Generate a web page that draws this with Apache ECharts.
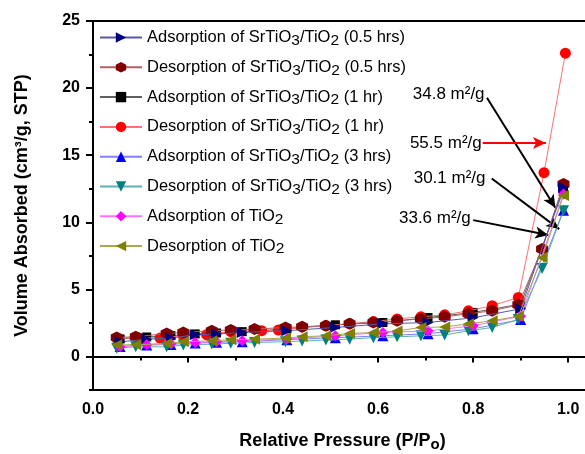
<!DOCTYPE html>
<html>
<head>
<meta charset="utf-8">
<script src="https://cdn.jsdelivr.net/npm/echarts@6/dist/echarts.min.js"></script>
<style>
html,body{margin:0;padding:0;background:#fff;overflow:hidden;}
#chart{width:585px;height:454px;}
</style>
</head>
<body>
<div id="chart"></div>
<script>
// ---- Data ----
const adsX = [0.057, 0.113, 0.164, 0.215, 0.26, 0.314, 0.408, 0.51, 0.61, 0.705, 0.80, 0.90, 0.99];
const desX = [0.99, 0.945, 0.895, 0.84, 0.79, 0.74, 0.69, 0.64, 0.59, 0.54, 0.49, 0.44, 0.405, 0.34, 0.29, 0.25, 0.19, 0.155, 0.09, 0.05];
const desRedX = [0.994, 0.949, 0.895, 0.84, 0.79, 0.74, 0.69, 0.64, 0.59, 0.54, 0.49, 0.44, 0.39, 0.355, 0.29, 0.239, 0.19, 0.141, 0.095, 0.05];

const adsSr05 = [1.09, 1.29, 1.37, 1.62, 1.67, 1.79, 1.92, 2.16, 2.43, 2.53, 2.88, 3.55, 12.6];
const desSr05 = [12.85, 8.0, 3.85, 3.4, 3.18, 2.95, 2.8, 2.66, 2.53, 2.43, 2.29, 2.21, 2.16, 2.04, 1.97, 1.92, 1.79, 1.71, 1.47, 1.42];
const adsSr1 = [1.30, 1.45, 1.55, 1.68, 1.75, 1.85, 2.05, 2.36, 2.53, 2.9, 3.28, 3.9, 12.4];
const desSr1 = [22.6, 13.7, 4.4, 3.78, 3.4, 3.1, 2.95, 2.8, 2.6, 2.45, 2.3, 2.2, 1.97, 1.92, 1.85, 1.62, 1.55, 1.37, 1.4, 1.35];
const adsSr3 = [0.75, 0.85, 0.9, 1.0, 1.05, 1.1, 1.25, 1.4, 1.54, 1.7, 2.06, 2.75, 10.9];
const desSr3 = [10.85, 6.55, 2.75, 2.16, 1.91, 1.6, 1.54, 1.46, 1.4, 1.29, 1.22, 1.15, 1.1, 1.04, 0.98, 0.92, 0.85, 0.72, 0.72, 0.62];
const adsTi = [0.72, 0.87, 0.95, 1.04, 1.1, 1.17, 1.3, 1.54, 1.79, 1.9, 2.29, 3.0, 12.1];
const desTi = [12.0, 7.35, 3.0, 2.66, 2.43, 2.2, 2.16, 1.9, 1.79, 1.71, 1.54, 1.47, 1.37, 1.29, 1.24, 1.17, 1.09, 0.97, 0.87, 0.87];

const xMajorTicks = [0, 0.2, 0.4, 0.6, 0.8, 1.0];
const xMinorTicks = [0.1, 0.3, 0.5, 0.7, 0.9];
const yMajorTicks = [0, 5, 10, 15, 20, 25];
const yMinorTicks = [-2.5, 2.5, 7.5, 12.5, 17.5, 22.5];

// annotation: label text, label anchor (right-middle of text), arrow start, arrow end
const noteTexts = ['34.8 m²/g', '55.5 m²/g', '30.1 m²/g', '33.6 m²/g'];
const noteAnchors = [[0.825, 19.55], [0.819, 15.9], [0.827, 13.26], [0.796, 10.26]];
const arrowStarts = [[0.829, 19.28], [0.820, 15.9], [0.839, 13.26], [0.80, 10.16]];
const arrowEnds = [[0.973, 11.08], [0.953, 15.9], [0.981, 9.49], [0.958, 9.05]];
const noteColors = ['#000', '#ff0000', '#000', '#000'];

const names = [
  'Adsorption of SrTiO3/TiO2 (0.5 hrs)',
  'Desorption of SrTiO3/TiO2 (0.5 hrs)',
  'Adsorption of SrTiO3/TiO2 (1 hr)',
  'Desorption of SrTiO3/TiO2 (1 hr)',
  'Adsorption of SrTiO3/TiO2 (3 hrs)',
  'Desorption of SrTiO3/TiO2 (3 hrs)',
  'Adsorption of TiO2',
  'Desorption of TiO2'
];
const richNames = [
  '{a|Adsorption of SrTiO}{s|3}{a|/TiO}{s|2}{a| (0.5 hrs)}',
  '{a|Desorption of SrTiO}{s|3}{a|/TiO}{s|2}{a| (0.5 hrs)}',
  '{a|Adsorption of SrTiO}{s|3}{a|/TiO}{s|2}{a| (1 hr)}',
  '{a|Desorption of SrTiO}{s|3}{a|/TiO}{s|2}{a| (1 hr)}',
  '{a|Adsorption of SrTiO}{s|3}{a|/TiO}{s|2}{a| (3 hrs)}',
  '{a|Desorption of SrTiO}{s|3}{a|/TiO}{s|2}{a| (3 hrs)}',
  '{a|Adsorption of TiO}{s|2}',
  '{a|Desorption of TiO}{s|2}'
];

const hexPath = 'path://M50,0 L93.3,25 L93.3,75 L50,100 L6.7,75 L6.7,25 Z';
const seriesDefs = [
  {x: adsX, y: adsSr05, color: '#000080', line: '#5a5aa8', symbol: 'triangle', rot: -90, size: 11, z: 6},
  {x: desX, y: desSr05, color: '#800000', line: '#b06060', symbol: hexPath, rot: 0, size: 12, z: 5},
  {x: adsX, y: adsSr1, color: '#000000', line: '#606060', symbol: 'rect', rot: 0, size: 9, z: 2},
  {x: desRedX, y: desSr1, color: '#ff0000', line: '#ff7070', symbol: 'circle', rot: 0, size: 11, z: 3},
  {x: adsX, y: adsSr3, color: '#0000ff', line: '#8080ff', symbol: 'triangle', rot: 0, size: 11, z: 4},
  {x: desX, y: desSr3, color: '#008080', line: '#60b0b0', symbol: 'triangle', rot: 180, size: 11, z: 7},
  {x: adsX, y: adsTi, color: '#ff00ff', line: '#ff70ff', symbol: 'diamond', rot: 0, size: 11, z: 8},
  {x: desX, y: desTi, color: '#808000', line: '#a8a850', symbol: 'triangle', rot: 90, size: 11, z: 9}
];

const FONT = 'Arial, "Liberation Sans", sans-serif';

const series = seriesDefs.map((d, i) => ({
  name: names[i],
  type: 'line',
  xAxisIndex: 0,
  yAxisIndex: 0,
  data: d.x.map((x, k) => [x, d.y[k]]),
  symbol: d.symbol,
  symbolRotate: d.rot,
  symbolSize: d.size,
  showAllSymbol: true,
  itemStyle: {color: d.color},
  lineStyle: {color: d.line, width: 1},
  z: d.z
}));

series.push({
  name: 'notes',
  type: 'line',
  data: [],
  xAxisIndex: 0,
  yAxisIndex: 0,
  z: 20,
  markLine: {
    silent: true,
    symbol: ['none', 'arrow'],
    symbolSize: [9, 13],
    label: {show: false},
    data: arrowStarts.map((s, i) => [
      {coord: s, lineStyle: {color: noteColors[i], width: 2, type: 'solid'}},
      {coord: arrowEnds[i]}
    ])
  },
  markPoint: {
    silent: true,
    symbol: 'circle',
    symbolSize: 1,
    itemStyle: {color: 'rgba(0,0,0,0)'},
    label: {
      show: true,
      position: 'left',
      distance: 0,
      color: '#000',
      fontFamily: FONT,
      fontSize: 17
    },
    data: noteAnchors.map((c, i) => ({coord: c, label: {formatter: noteTexts[i]}}))
  }
});

const gridRect = {left: 93, top: 21, width: 499, bottom: 64};

const chart = echarts.init(document.getElementById('chart'));
chart.setOption({
  animation: false,
  backgroundColor: '#fff',
  grid: [
    Object.assign({show: true, borderColor: '#000', borderWidth: 2, outerBoundsMode: 'none', containLabel: false}, gridRect),
    Object.assign({show: false, outerBoundsMode: 'none', containLabel: false}, gridRect)
  ],
  legend: {
    data: names,
    left: 99,
    top: 29,
    padding: 0,
    orient: 'vertical',
    itemWidth: 42,
    itemHeight: 13,
    itemGap: 10.3,
    formatter: n => richNames[names.indexOf(n)],
    textStyle: {
      fontFamily: FONT,
      fontSize: 16.5,
      color: '#000',
      rich: {
        a: {fontFamily: FONT, fontSize: 16.5, color: '#000', lineHeight: 22},
        s: {fontFamily: FONT, fontSize: 15.5, color: '#000', lineHeight: 12, verticalAlign: 'bottom'}
      }
    }
  },
  xAxis: [{
    gridIndex: 0,
    type: 'value',
    min: 0,
    max: 1.05,
    interval: 0.2,
    name: '{t|Relative Pressure (P/P}{s|o}{t|)}',
    nameLocation: 'middle',
    nameGap: 40,
    nameTextStyle: {
      rich: {
        t: {fontFamily: FONT, fontSize: 18, fontWeight: 'bold', color: '#000', lineHeight: 22},
        s: {fontFamily: FONT, fontSize: 15, fontWeight: 'bold', color: '#000', lineHeight: 10, verticalAlign: 'bottom'}
      }
    },
    axisLine: {lineStyle: {color: '#000', width: 2}},
    axisTick: {customValues: xMajorTicks, length: 6, lineStyle: {color: '#000', width: 2}},
    axisLabel: {customValues: xMajorTicks, margin: 12, fontFamily: FONT, fontSize: 16, fontWeight: 'bold', color: '#000',
      formatter: v => v.toFixed(1)},
    splitLine: {show: false}
  }, {
    gridIndex: 1,
    type: 'value',
    min: 0,
    max: 1.05,
    position: 'bottom',
    axisLine: {show: false},
    axisTick: {customValues: xMinorTicks, length: 4, lineStyle: {color: '#000', width: 2}},
    axisLabel: {show: false},
    splitLine: {show: false}
  }],
  yAxis: [{
    gridIndex: 0,
    type: 'value',
    min: -2.5,
    max: 25,
    interval: 2.5,
    name: 'Volume Absorbed (cm³/g, STP)',
    nameLocation: 'middle',
    nameGap: 62,
    nameTextStyle: {fontFamily: FONT, fontSize: 18, fontWeight: 'bold', color: '#000'},
    axisLine: {show: true, lineStyle: {color: '#000', width: 2}},
    axisTick: {customValues: yMajorTicks, length: 7, lineStyle: {color: '#000', width: 2}},
    axisLabel: {customValues: yMajorTicks, margin: 13, fontFamily: FONT, fontSize: 16, fontWeight: 'bold', color: '#000'},
    splitLine: {show: false}
  }, {
    gridIndex: 1,
    type: 'value',
    min: -2.5,
    max: 25,
    position: 'left',
    axisLine: {show: false},
    axisTick: {show: true, customValues: yMinorTicks, length: 4, lineStyle: {color: '#000', width: 2}},
    axisLabel: {show: false},
    splitLine: {show: false}
  }],
  series: series
});
</script>
</body>
</html>
